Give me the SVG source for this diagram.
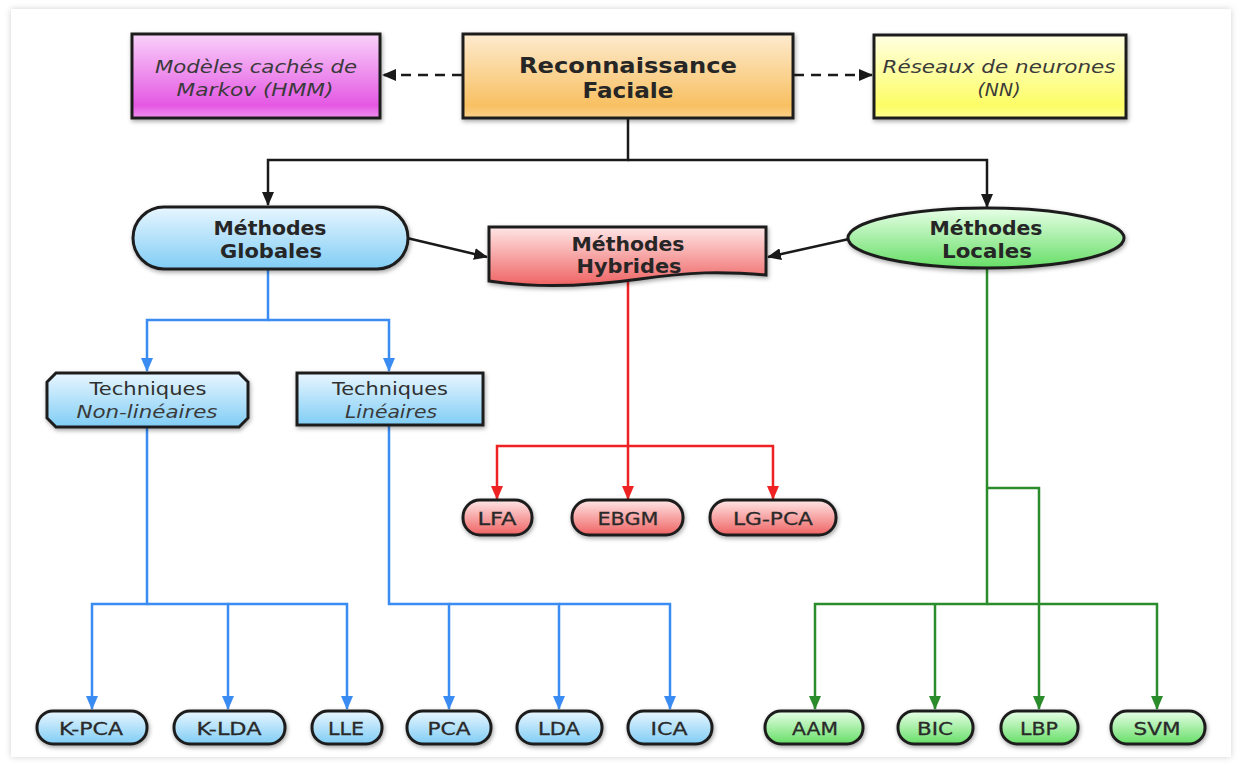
<svg xmlns="http://www.w3.org/2000/svg" width="1237" height="771" viewBox="0 0 1237 771">
  <defs>
    <linearGradient id="gMagenta" x1="0" y1="0" x2="0" y2="1">
      <stop offset="0" stop-color="#f9d2f9"/>
      <stop offset="0.85" stop-color="#e458e4"/>
      <stop offset="1" stop-color="#ee90ee"/>
    </linearGradient>
    <linearGradient id="gOrange" x1="0" y1="0" x2="0" y2="1">
      <stop offset="0" stop-color="#fdebcf"/>
      <stop offset="0.85" stop-color="#f8c062"/>
      <stop offset="1" stop-color="#fbd18a"/>
    </linearGradient>
    <linearGradient id="gYellow" x1="0" y1="0" x2="0" y2="1">
      <stop offset="0" stop-color="#ffffe2"/>
      <stop offset="0.85" stop-color="#fdfd66"/>
      <stop offset="1" stop-color="#fefe90"/>
    </linearGradient>
    <linearGradient id="gBlue" x1="0" y1="0" x2="0" y2="1">
      <stop offset="0" stop-color="#e8f6ff"/>
      <stop offset="1" stop-color="#80cdf5"/>
    </linearGradient>
    <linearGradient id="gRed" x1="0" y1="0" x2="0" y2="1">
      <stop offset="0" stop-color="#ffe6e6"/>
      <stop offset="1" stop-color="#ef6262"/>
    </linearGradient>
    <linearGradient id="gGreen" x1="0" y1="0" x2="0" y2="1">
      <stop offset="0" stop-color="#e8ffe8"/>
      <stop offset="1" stop-color="#66de66"/>
    </linearGradient>
    <filter id="shadow" x="-10%" y="-20%" width="120%" height="150%">
      <feDropShadow dx="1" dy="2" stdDeviation="2" flood-color="#000" flood-opacity="0.35"/>
    </filter>
    <filter id="pageShadow" x="-5%" y="-5%" width="110%" height="110%">
      <feDropShadow dx="0" dy="0" stdDeviation="3" flood-color="#000" flood-opacity="0.18"/>
    </filter>
    <marker id="aBlack" viewBox="0 0 14 12" refX="13" refY="6" markerWidth="14" markerHeight="12" markerUnits="userSpaceOnUse" orient="auto">
      <path d="M0,0 L14,6 L0,12 Z" fill="#1a1a1a"/>
    </marker>
    <marker id="aBlue" viewBox="0 0 14 12" refX="13" refY="6" markerWidth="14" markerHeight="12" markerUnits="userSpaceOnUse" orient="auto">
      <path d="M0,0 L14,6 L0,12 Z" fill="#3a8cf2"/>
    </marker>
    <marker id="aRed" viewBox="0 0 14 12" refX="13" refY="6" markerWidth="14" markerHeight="12" markerUnits="userSpaceOnUse" orient="auto">
      <path d="M0,0 L14,6 L0,12 Z" fill="#ee2222"/>
    </marker>
    <marker id="aGreen" viewBox="0 0 14 12" refX="13" refY="6" markerWidth="14" markerHeight="12" markerUnits="userSpaceOnUse" orient="auto">
      <path d="M0,0 L14,6 L0,12 Z" fill="#2b8c2b"/>
    </marker>
  </defs>
  <style>
    .box { stroke: #1e1e1e; stroke-width: 3; filter: url(#shadow); }
    .t { font-family: "DejaVu Sans", Verdana, sans-serif; text-anchor: middle; fill: #262626; }
    .bold { font-weight: bold; font-size: 19px; }
    .big { font-weight: bold; font-size: 21px; }
    .it { font-style: italic; font-size: 17px; fill: #3a3a3a; }
    .reg { font-size: 17px; fill: #303030; }
    .sm { font-size: 18px; fill: #2a2a2a; stroke: #2a2a2a; stroke-width: 0.3; }
    .c { fill: none; stroke-width: 2.5; }
    .black { stroke: #1a1a1a; }
    .blue { stroke: #3a8cf2; }
    .red { stroke: #ee2222; }
    .green { stroke: #2b8c2b; }
  </style>

  <!-- page -->
  <rect x="0" y="0" width="1237" height="771" fill="#ffffff"/>
  <rect x="11" y="9" width="1220" height="748" fill="#ffffff" filter="url(#pageShadow)"/>

  <!-- connectors -->
  <g id="connectors">
    <line class="c black" x1="462" y1="75" x2="383" y2="75" stroke-dasharray="10 7" marker-end="url(#aBlack)"/>
    <line class="c black" x1="794" y1="75" x2="872" y2="75" stroke-dasharray="10 7" marker-end="url(#aBlack)"/>
    <polyline class="c black" points="628,118 628,160 268,160 268,205" marker-end="url(#aBlack)"/>
    <polyline class="c black" points="628,160 987,160 987,207" marker-end="url(#aBlack)"/>
    <line class="c black" x1="407" y1="238" x2="487" y2="257" marker-end="url(#aBlack)"/>
    <line class="c black" x1="849" y1="239" x2="768" y2="257" marker-end="url(#aBlack)"/>

    <!-- global methods -->
    <polyline class="c blue" points="268,269 268,320 147,320 147,371" marker-end="url(#aBlue)"/>
    <polyline class="c blue" points="268,320 389,320 389,371" marker-end="url(#aBlue)"/>
    <polyline class="c blue" points="147,427 147,604 92,604 92,709" marker-end="url(#aBlue)"/>
    <polyline class="c blue" points="147,604 228,604 228,709" marker-end="url(#aBlue)"/>
    <polyline class="c blue" points="228,604 347,604 347,709" marker-end="url(#aBlue)"/>
    <polyline class="c blue" points="389,425 389,604 449,604 449,709" marker-end="url(#aBlue)"/>
    <polyline class="c blue" points="449,604 559,604 559,709" marker-end="url(#aBlue)"/>
    <polyline class="c blue" points="559,604 670,604 670,709" marker-end="url(#aBlue)"/>

    <!-- hybrid methods -->
    <polyline class="c red" points="628,281 628,446 497,446 497,499" marker-end="url(#aRed)"/>
    <line class="c red" x1="628" y1="446" x2="628" y2="499" marker-end="url(#aRed)"/>
    <polyline class="c red" points="628,446 773,446 773,499" marker-end="url(#aRed)"/>

    <!-- local methods -->
    <polyline class="c green" points="987,268 987,604 815,604 815,709" marker-end="url(#aGreen)"/>
    <line class="c green" x1="935" y1="604" x2="935" y2="709" marker-end="url(#aGreen)"/>
    <polyline class="c green" points="987,604 1157,604 1157,709" marker-end="url(#aGreen)"/>
    <polyline class="c green" points="987,488 1039,488 1039,709" marker-end="url(#aGreen)"/>
  </g>

  <!-- top row -->
  <g id="node-hmm">
    <rect class="box" x="132" y="34" width="248" height="84" fill="url(#gMagenta)"/>
    <text class="t it" x="256" y="73" textLength="202" lengthAdjust="spacingAndGlyphs">Modèles cachés de</text>
    <text class="t it" x="255" y="96" textLength="157" lengthAdjust="spacingAndGlyphs">Markov (HMM)</text>
  </g>
  <g id="node-reconnaissance">
    <rect class="box" x="463" y="34" width="330" height="84" fill="url(#gOrange)"/>
    <text class="t big" x="628" y="73" textLength="218" lengthAdjust="spacingAndGlyphs">Reconnaissance</text>
    <text class="t big" x="628" y="98" textLength="91" lengthAdjust="spacingAndGlyphs">Faciale</text>
  </g>
  <g id="node-nn">
    <rect class="box" x="874" y="35" width="252" height="83" fill="url(#gYellow)"/>
    <text class="t it" x="999" y="73" textLength="233" lengthAdjust="spacingAndGlyphs">Réseaux de neurones</text>
    <text class="t it" x="999" y="96" textLength="43" lengthAdjust="spacingAndGlyphs">(NN)</text>
  </g>

  <!-- method families -->
  <g id="node-globales">
    <rect class="box" x="133" y="207" width="275" height="62" rx="31" ry="31" fill="url(#gBlue)"/>
    <text class="t bold" x="270" y="235" textLength="113" lengthAdjust="spacingAndGlyphs">Méthodes</text>
    <text class="t bold" x="271" y="258" textLength="102" lengthAdjust="spacingAndGlyphs">Globales</text>
  </g>
  <g id="node-hybrides">
    <path class="box" d="M489,227 H766 V275 C720,271 690,272 640,279 C590,286 540,289 489,281 Z" fill="url(#gRed)"/>
    <text class="t bold" x="628" y="251" textLength="113" lengthAdjust="spacingAndGlyphs">Méthodes</text>
    <text class="t bold" x="629" y="273" textLength="105" lengthAdjust="spacingAndGlyphs">Hybrides</text>
  </g>
  <g id="node-locales">
    <ellipse class="box" cx="986" cy="238" rx="138" ry="30" fill="url(#gGreen)"/>
    <text class="t bold" x="986" y="235" textLength="113" lengthAdjust="spacingAndGlyphs">Méthodes</text>
    <text class="t bold" x="987" y="258" textLength="90" lengthAdjust="spacingAndGlyphs">Locales</text>
  </g>

  <!-- technique groups -->
  <g id="node-non-lineaires">
    <path class="box" d="M56,373 H239 L248,382 V418 L239,427 H56 L47,418 V382 Z" fill="url(#gBlue)"/>
    <text class="t reg" x="148" y="395" textLength="117" lengthAdjust="spacingAndGlyphs">Techniques</text>
    <text class="t it" x="147" y="418" textLength="141" lengthAdjust="spacingAndGlyphs">Non-linéaires</text>
  </g>
  <g id="node-lineaires">
    <rect class="box" x="297" y="373" width="186" height="52" fill="url(#gBlue)"/>
    <text class="t reg" x="390" y="395" textLength="116" lengthAdjust="spacingAndGlyphs">Techniques</text>
    <text class="t it" x="391" y="418" textLength="92" lengthAdjust="spacingAndGlyphs">Linéaires</text>
  </g>

  <!-- hybrid leaves -->
  <g id="node-lfa">
    <rect class="box" x="463" y="500" width="69" height="35" rx="17" fill="url(#gRed)"/>
    <text class="t sm" x="497" y="525" textLength="39" lengthAdjust="spacingAndGlyphs">LFA</text>
  </g>
  <g id="node-ebgm">
    <rect class="box" x="572" y="500" width="111" height="35" rx="17" fill="url(#gRed)"/>
    <text class="t sm" x="628" y="525" textLength="61" lengthAdjust="spacingAndGlyphs">EBGM</text>
  </g>
  <g id="node-lg-pca">
    <rect class="box" x="710" y="500" width="126" height="35" rx="17" fill="url(#gRed)"/>
    <text class="t sm" x="773" y="525" textLength="80" lengthAdjust="spacingAndGlyphs">LG-PCA</text>
  </g>

  <!-- global leaves -->
  <g id="node-k-pca">
    <rect class="box" x="37" y="711" width="110" height="33" rx="16" fill="url(#gBlue)"/>
    <text class="t sm" x="91" y="735" textLength="64" lengthAdjust="spacingAndGlyphs">K-PCA</text>
  </g>
  <g id="node-k-lda">
    <rect class="box" x="174" y="711" width="111" height="33" rx="16" fill="url(#gBlue)"/>
    <text class="t sm" x="229" y="735" textLength="65" lengthAdjust="spacingAndGlyphs">K-LDA</text>
  </g>
  <g id="node-lle">
    <rect class="box" x="312" y="711" width="70" height="33" rx="16" fill="url(#gBlue)"/>
    <text class="t sm" x="346" y="735" textLength="36" lengthAdjust="spacingAndGlyphs">LLE</text>
  </g>
  <g id="node-pca">
    <rect class="box" x="407" y="711" width="84" height="33" rx="16" fill="url(#gBlue)"/>
    <text class="t sm" x="449" y="735" textLength="43" lengthAdjust="spacingAndGlyphs">PCA</text>
  </g>
  <g id="node-lda">
    <rect class="box" x="517" y="711" width="85" height="33" rx="16" fill="url(#gBlue)"/>
    <text class="t sm" x="559" y="735" textLength="42" lengthAdjust="spacingAndGlyphs">LDA</text>
  </g>
  <g id="node-ica">
    <rect class="box" x="628" y="711" width="84" height="33" rx="16" fill="url(#gBlue)"/>
    <text class="t sm" x="669" y="735" textLength="37" lengthAdjust="spacingAndGlyphs">ICA</text>
  </g>

  <!-- local leaves -->
  <g id="node-aam">
    <rect class="box" x="765" y="711" width="98" height="33" rx="16" fill="url(#gGreen)"/>
    <text class="t sm" x="815" y="735" textLength="46" lengthAdjust="spacingAndGlyphs">AAM</text>
  </g>
  <g id="node-bic">
    <rect class="box" x="898" y="711" width="75" height="33" rx="16" fill="url(#gGreen)"/>
    <text class="t sm" x="935" y="735" textLength="36" lengthAdjust="spacingAndGlyphs">BIC</text>
  </g>
  <g id="node-lbp">
    <rect class="box" x="1001" y="711" width="77" height="33" rx="16" fill="url(#gGreen)"/>
    <text class="t sm" x="1039" y="735" textLength="38" lengthAdjust="spacingAndGlyphs">LBP</text>
  </g>
  <g id="node-svm">
    <rect class="box" x="1111" y="711" width="94" height="33" rx="16" fill="url(#gGreen)"/>
    <text class="t sm" x="1157" y="735" textLength="47" lengthAdjust="spacingAndGlyphs">SVM</text>
  </g>
</svg>
